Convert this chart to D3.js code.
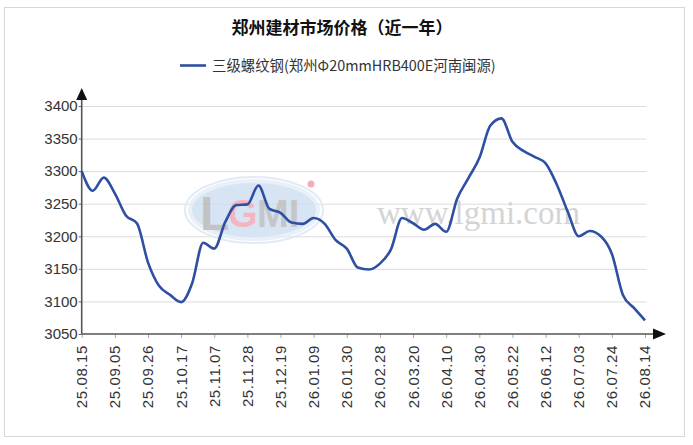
<!DOCTYPE html>
<html>
<head>
<meta charset="utf-8">
<script src="https://cdn.jsdelivr.net/npm/d3@7"></script>
<style>
  body { margin: 0; background: #fff; }
  svg text { font-family: "Liberation Sans", Arial, sans-serif; }
  .tick text { fill: #333; font-size: 15px; }
  .grid line { stroke: #dcdcdc; stroke-width: 1; }
  .grid path { display: none; }
</style>
</head>
<body>
<div class="chart"></div>
<script>
// weekly points
var dates = [
  "25.08.15","25.08.22","25.08.29","25.09.05","25.09.12","25.09.19","25.09.26",
  "25.10.03","25.10.10","25.10.17","25.10.24","25.10.31","25.11.07","25.11.14",
  "25.11.21","25.11.28","25.12.05","25.12.12","25.12.19","25.12.26","26.01.02",
  "26.01.09","26.01.16","26.01.23","26.01.30","26.02.06","26.02.13","26.02.28",
  "26.03.06","26.03.13","26.03.20","26.03.27","26.04.03","26.04.10","26.04.17",
  "26.04.24","26.04.30","26.05.08","26.05.15","26.05.22","26.05.29","26.06.05",
  "26.06.12","26.06.19","26.06.26","26.07.03","26.07.10","26.07.17","26.07.24",
  "26.07.31","26.08.07","26.08.14"
];
var prices = [
  3300, 3270, 3290, 3266, 3232, 3220, 3160, 3124, 3110, 3099, 3128, 3190, 3181,
  3222, 3248, 3249, 3278, 3242, 3236, 3221, 3219, 3228, 3219, 3194, 3181, 3152,
  3149, 3158, 3180, 3228, 3220, 3210, 3219, 3207, 3258, 3289, 3320, 3370, 3381,
  3345, 3331, 3322, 3312, 3280, 3238, 3200, 3208, 3200, 3173, 3110, 3090, 3071
];
var xTickLabels = [
  "25.08.15","25.09.05","25.09.26","25.10.17","25.11.07","25.11.28","25.12.19",
  "26.01.09","26.01.30","26.02.28","26.03.20","26.04.10","26.04.30","26.05.22",
  "26.06.12","26.07.03","26.07.24","26.08.14"
];
var yTicks = [3050, 3100, 3150, 3200, 3250, 3300, 3350, 3400];

var title = "郑州建材市场价格（近一年）";
var seriesName = "三级螺纹钢(郑州Φ20mmHRB400E河南闽源)";

var width = 693,
    height = 445,
    plotLeft = 81.7,
    plotRight = 645,
    plotTop = 106,
    plotBottom = 334,
    lineColor = "#2f4fa2";

var svg = d3.select(".chart").append("svg")
            .attr("width", width)
            .attr("height", height);

// outer frame
svg.append("rect")
   .attr("x", 4.5).attr("y", 7.5)
   .attr("width", 680).attr("height", 429)
   .attr("fill", "#fff")
   .attr("stroke", "#d8d8d8");

var xScale = d3.scalePoint().domain(dates).range([plotLeft, plotRight]);
var yScale = d3.scaleLinear().domain([3050, 3400]).range([plotBottom, plotTop]);

// gridlines
svg.append("g")
   .attr("class", "grid")
   .attr("transform", "translate(" + plotLeft + ",0)")
   .call(d3.axisRight(yScale).tickValues(yTicks.slice(1)).tickSize(plotRight - plotLeft + 1.5).tickFormat(""));

// watermark
var wm = svg.append("g").attr("opacity", 0.85);
wm.append("ellipse")
  .attr("cx", 254).attr("cy", 210).attr("rx", 64).attr("ry", 29)
  .attr("fill", "#cfe0f2").attr("stroke", "#e6eef8").attr("stroke-width", 4);
wm.append("ellipse")
  .attr("cx", 254).attr("cy", 210).attr("rx", 69).attr("ry", 33)
  .attr("fill", "none").attr("stroke", "#dde8f4").attr("stroke-width", 2);
wm.append("text")
  .attr("x", 200).attr("y", 230)
  .style("font-size", "48px").style("font-weight", "bold")
  .attr("fill", "#b9b9b9").text("L");
wm.append("text")
  .attr("x", 228).attr("y", 227)
  .style("font-size", "38px").style("font-weight", "bold")
  .attr("fill", "#f2a9b3").text("G");
wm.append("text")
  .attr("x", 257).attr("y", 227)
  .style("font-size", "38px").style("font-weight", "bold")
  .attr("fill", "#bdbdbd").text("MI");
wm.append("circle")
  .attr("cx", 311).attr("cy", 184).attr("r", 3.5).attr("fill", "#f4a0aa");
svg.append("text")
   .attr("x", 377).attr("y", 224)
   .style("font-family", "'Liberation Serif', 'DejaVu Serif', serif")
   .style("font-size", "33px")
   .attr("fill", "#d4d4d4")
   .text("www.lgmi.com");

// y axis
var yAxis = svg.append("g")
   .attr("transform", "translate(" + plotLeft + ",0)")
   .call(d3.axisLeft(yScale).tickValues(yTicks).tickFormat(d3.format("d")).tickSize(3).tickPadding(1));
yAxis.select(".domain").remove();
yAxis.selectAll(".tick line").attr("stroke", "#666");

// x axis
var xAxis = svg.append("g")
   .attr("transform", "translate(0," + plotBottom + ")")
   .call(d3.axisBottom(xScale).tickValues(xTickLabels).tickSize(4));
xAxis.select(".domain").remove();
xAxis.selectAll(".tick line").attr("stroke", "#aaa");
xAxis.selectAll(".tick text")
     .attr("transform", "rotate(-90)")
     .attr("text-anchor", "end")
     .attr("x", -11)
     .attr("y", 0)
     .attr("dy", "0.33em")
     .style("letter-spacing", "0.6px");

// axis lines with arrows
svg.append("line")
   .attr("x1", plotLeft).attr("y1", plotBottom).attr("x2", plotLeft).attr("y2", 98)
   .attr("stroke", "#555").attr("stroke-width", 1.6);
svg.append("path")
   .attr("d", "M" + plotLeft + ",88 L" + (plotLeft - 5.5) + ",100 L" + (plotLeft + 5.5) + ",100 Z")
   .attr("fill", "#111");
svg.append("line")
   .attr("x1", plotLeft).attr("y1", plotBottom).attr("x2", 654).attr("y2", plotBottom)
   .attr("stroke", "#555").attr("stroke-width", 1.6);
svg.append("path")
   .attr("d", "M666," + plotBottom + " L653," + (plotBottom - 5.5) + " L653," + (plotBottom + 5.5) + " Z")
   .attr("fill", "#111");

// price line
var line = d3.line()
   .x(function(d, i) { return xScale(dates[i]); })
   .y(function(d) { return yScale(d); })
   .curve(d3.curveMonotoneX);

svg.append("path")
   .datum(prices)
   .attr("d", line)
   .attr("fill", "none")
   .attr("stroke", lineColor)
   .attr("stroke-width", 2.6)
   .attr("stroke-linejoin", "round");

// title
svg.append("text")
   .attr("x", 342).attr("y", 34)
   .attr("text-anchor", "middle")
   .style("font-family", "'Noto Sans CJK SC', sans-serif")
   .style("font-size", "17px")
   .style("font-weight", "bold")
   .attr("fill", "#111")
   .text(title);

// legend
svg.append("line")
   .attr("x1", 180).attr("y1", 65.5).attr("x2", 206).attr("y2", 65.5)
   .attr("stroke", lineColor).attr("stroke-width", 2.6);
svg.append("text")
   .attr("x", 212).attr("y", 70.8)
   .style("font-family", "'Noto Sans CJK SC', sans-serif")
   .style("font-size", "14.4px")
   .attr("fill", "#333")
   .text(seriesName);
</script>
</body>
</html>
